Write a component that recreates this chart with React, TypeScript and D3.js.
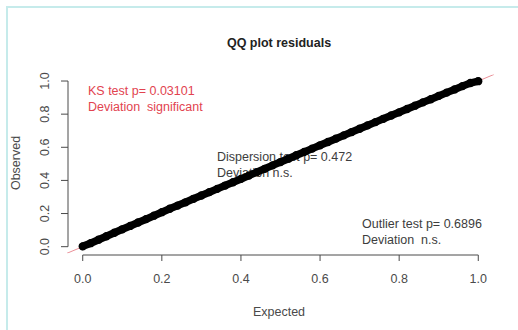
import React from "react";
import * as d3 from "d3";

// Quantile pairs of the scaled residuals (expected uniform vs observed)
const expected = [
  0.0, 0.02, 0.04, 0.06, 0.08, 0.1, 0.12, 0.14, 0.16, 0.18, 0.2, 0.22, 0.24,
  0.26, 0.28, 0.3, 0.32, 0.34, 0.36, 0.38, 0.4, 0.42, 0.44, 0.46, 0.48, 0.5,
  0.52, 0.54, 0.56, 0.58, 0.6, 0.62, 0.64, 0.66, 0.68, 0.7, 0.72, 0.74, 0.76,
  0.78, 0.8, 0.82, 0.84, 0.86, 0.88, 0.9, 0.92, 0.94, 0.96, 0.98, 1.0,
];
const observed = [
  0.002, 0.021, 0.042, 0.063, 0.084, 0.105, 0.125, 0.146, 0.166, 0.187, 0.208,
  0.229, 0.248, 0.268, 0.289, 0.309, 0.329, 0.349, 0.369, 0.389, 0.409, 0.429,
  0.45, 0.47, 0.491, 0.511, 0.531, 0.552, 0.572, 0.592, 0.612, 0.632, 0.652,
  0.672, 0.692, 0.712, 0.732, 0.752, 0.772, 0.792, 0.811, 0.831, 0.851, 0.871,
  0.89, 0.91, 0.93, 0.949, 0.969, 0.988, 0.999,
];

const ticks = [0, 0.2, 0.4, 0.6, 0.8, 1.0];

const ksLines = ["KS test p= 0.03101", "Deviation  significant"];
const dispLines = ["Dispersion test p= 0.472", "Deviation n.s."];
const outLines = ["Outlier test p= 0.6896", "Deviation  n.s."];

const FONT = "'Liberation Sans', Arial, sans-serif";

export default function App() {
  const W = 518;
  const H = 330;
  const x = d3.scaleLinear().domain([-0.04, 1.04]).range([66.9, 494.1]);
  const y = d3.scaleLinear().domain([-0.04, 1.04]).range([253.3, 74.4]);

  const pts = expected.map((e, i) => [e, observed[i]] as [number, number]);
  const line = d3
    .line<[number, number]>()
    .x((d) => x(d[0]))
    .y((d) => y(d[1]));

  const axisY = 255;
  const axisX = 68;
  const gray = "#4a4a4a";

  const textBlock = (lines: string[], x0: number, y0: number, color: string) =>
    lines.map((t, i) => (
      <text
        key={t}
        x={x0}
        y={y0 + i * 16}
        fill={color}
        fontSize={12.5}
        fontFamily={FONT}
        style={{ whiteSpace: "pre" }}
      >
        {t}
      </text>
    ));

  return (
    <svg
      width={W}
      height={H}
      style={{ position: "absolute", left: 0, top: 0, background: "#fff" }}
    >
      <defs>
        <clipPath id="plotArea">
          <rect x={x(-0.04)} y={y(1.04)} width={x(1.04) - x(-0.04)} height={y(-0.04) - y(1.04)} />
        </clipPath>
      </defs>
      <rect x={7} y={7} width={530} height={340} fill="none" stroke="#c6ebeb" strokeWidth={2} />

      {/* title */}
      <text x={279} y={47} textAnchor="middle" fontWeight="bold" fontSize={12.5} fontFamily={FONT} fill="#222">
        QQ plot residuals
      </text>

      {/* x axis */}
      <line x1={x(0)} x2={x(1)} y1={axisY} y2={axisY} stroke={gray} strokeWidth={1} />
      {ticks.map((t) => (
        <g key={"xt" + t}>
          <line x1={x(t)} x2={x(t)} y1={axisY} y2={axisY + 6} stroke={gray} />
          <text x={x(t)} y={282.5} textAnchor="middle" fontSize={12.5} fontFamily={FONT} fill={gray}>
            {t.toFixed(1)}
          </text>
        </g>
      ))}
      <text x={279} y={316} textAnchor="middle" fontSize={12.5} fontFamily={FONT} fill={gray}>
        Expected
      </text>

      {/* y axis */}
      <line x1={axisX} x2={axisX} y1={y(0)} y2={y(1)} stroke={gray} strokeWidth={1} />
      {ticks.map((t) => (
        <g key={"yt" + t}>
          <line x1={axisX} x2={axisX - 7} y1={y(t)} y2={y(t)} stroke={gray} />
          <text
            transform={`translate(49,${y(t)}) rotate(-90)`}
            textAnchor="middle"
            fontSize={12.5}
            fontFamily={FONT}
            fill={gray}
          >
            {t.toFixed(1)}
          </text>
        </g>
      ))}
      <text
        transform={`translate(19.5,163) rotate(-90)`}
        textAnchor="middle"
        fontSize={12.5}
        fontFamily={FONT}
        fill={gray}
      >
        Observed
      </text>

      {/* test annotations */}
      {textBlock(ksLines, 88, 95, "#e2434f")}
      {textBlock(dispLines, 217, 161, "#3d3d3d")}
      {textBlock(outLines, 362, 228, "#3d3d3d")}

      {/* 1:1 reference line */}
      <g clipPath="url(#plotArea)">
        <line
          x1={x(-0.04)}
          y1={y(-0.04)}
          x2={x(1.04)}
          y2={y(1.04)}
          stroke="#e36a74"
          strokeOpacity={0.75}
          strokeWidth={1}
        />
      </g>

      {/* residual quantiles */}
      <path d={line(pts) ?? ""} fill="none" stroke="#000" strokeWidth={7.5} strokeLinecap="round" />
      {pts.map((p, i) => (
        <circle key={i} cx={x(p[0])} cy={y(p[1])} r={3.4} fill="none" stroke="#000" strokeWidth={1.5} />
      ))}
    </svg>
  );
}
